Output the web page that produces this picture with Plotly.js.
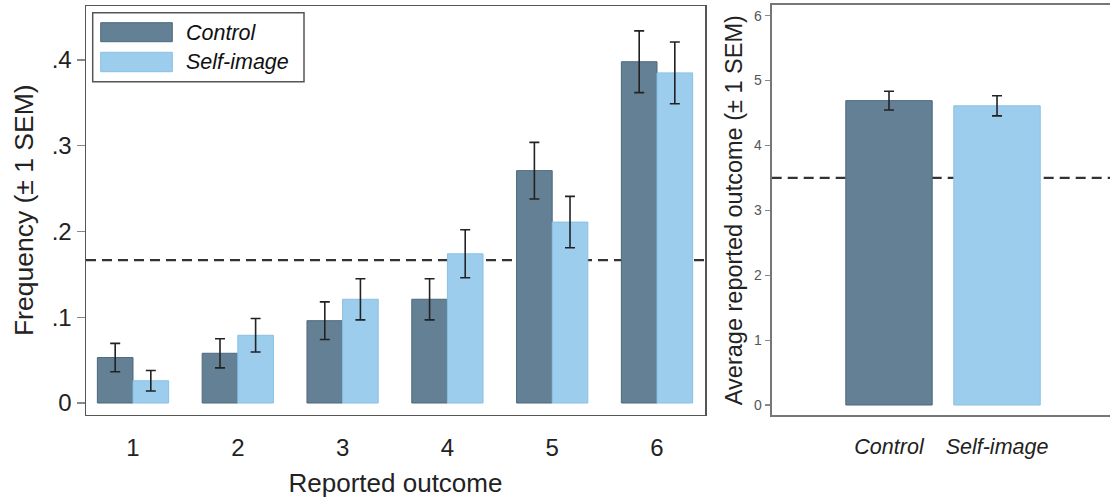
<!DOCTYPE html>
<html>
<head>
<meta charset="utf-8">
<script src="https://cdn.plot.ly/plotly-3.0.1.min.js"></script>
<style>html,body{margin:0;padding:0;background:#fff;}#chart{width:1110px;height:501px;}</style>
</head>
<body>
<div id="chart"></div>
<script>
// ---- data ----
var outcomes = ['1', '2', '3', '4', '5', '6'];
var controlFreq = [0.053, 0.058, 0.096, 0.121, 0.271, 0.398];
var controlFreqSem = [0.0165, 0.017, 0.022, 0.024, 0.033, 0.036];
var selfFreq = [0.026, 0.079, 0.121, 0.174, 0.211, 0.385];
var selfFreqSem = [0.012, 0.0195, 0.024, 0.028, 0.030, 0.036];

var groups = ['Control', 'Self-image'];
var avgOutcome = [4.69, 4.61];
var avgOutcomeSem = [0.145, 0.155];

var chanceFreq = 1 / 6;
var chanceMean = 3.5;

var freqTickVals = [0, 0.1, 0.2, 0.3, 0.4];
var freqTickText = ['0', '.1', '.2', '.3', '.4'];
var avgTickVals = [0, 1, 2, 3, 4, 5, 6];
var avgTickText = ['0', '1', '2', '3', '4', '5', '6'];

// ---- styles ----
var W = 1110, H = 501;
var cCtrl = '#648094', cCtrlLine = '#4d687d';
var cSelf = '#9dcdec', cSelfLine = '#88c0e6';
var FONT = 'Liberation Sans, Arial, sans-serif';
function px(x) { return x / W; }
function py(y) { return 1 - y / H; }

var errStyle = { type: 'data', visible: true, color: '#222', thickness: 1.6, width: 5 };

var traces = [
  {
    type: 'bar', name: 'Control', x: outcomes, y: controlFreq, xaxis: 'x', yaxis: 'y',
    marker: { color: cCtrl, line: { color: cCtrlLine, width: 1 } },
    error_y: Object.assign({ array: controlFreqSem }, errStyle),
    showlegend: false, hoverinfo: 'x+y'
  },
  {
    type: 'bar', name: 'Self-image', x: outcomes, y: selfFreq, xaxis: 'x', yaxis: 'y',
    marker: { color: cSelf, line: { color: cSelfLine, width: 1 } },
    error_y: Object.assign({ array: selfFreqSem }, errStyle),
    showlegend: false, hoverinfo: 'x+y'
  },
  {
    type: 'bar', name: 'Average', x: groups, y: avgOutcome, xaxis: 'x2', yaxis: 'y2',
    width: 0.8,
    marker: { color: [cCtrl, cSelf], line: { color: [cCtrlLine, cSelfLine], width: 1 } },
    error_y: Object.assign({ array: avgOutcomeSem }, errStyle),
    showlegend: false, hoverinfo: 'x+y'
  }
];

var legBox = { x0: 92.7, x1: 304, y0: 12.7, y1: 81.7 };
var shapes = [
  { type: 'line', xref: 'x domain', yref: 'y', x0: 0, x1: 1, y0: chanceFreq, y1: chanceFreq,
    line: { color: '#333', width: 2.2, dash: '10px,6px' }, layer: 'below' },
  { type: 'line', xref: 'x2 domain', yref: 'y2', x0: 0, x1: 1, y0: chanceMean, y1: chanceMean,
    line: { color: '#333', width: 2.2, dash: '10px,6px' }, layer: 'below' },
  // legend box and swatches
  { type: 'rect', xref: 'paper', yref: 'paper', x0: px(legBox.x0), x1: px(legBox.x1), y0: py(legBox.y1), y1: py(legBox.y0),
    line: { color: '#555', width: 1.5 }, fillcolor: 'rgba(255,255,255,1)' },
  { type: 'rect', xref: 'paper', yref: 'paper', x0: px(100.7), x1: px(172.3), y0: py(41.7), y1: py(22.7),
    line: { color: cCtrlLine, width: 1 }, fillcolor: cCtrl },
  { type: 'rect', xref: 'paper', yref: 'paper', x0: px(100.7), x1: px(172.3), y0: py(71.7), y1: py(52.3),
    line: { color: cSelfLine, width: 1 }, fillcolor: cSelf }
];

var annotations = [
  { xref: 'paper', yref: 'paper', x: px(184), y: py(32.5), xanchor: 'left', yanchor: 'middle', showarrow: false,
    text: '<i>Control</i>', font: { family: FONT, size: 21.5, color: '#111' } },
  { xref: 'paper', yref: 'paper', x: px(184), y: py(62.5), xanchor: 'left', yanchor: 'middle', showarrow: false,
    text: '<i>Self-image</i>', font: { family: FONT, size: 21.5, color: '#111' } }
];

var layout = {
  width: W, height: H,
  margin: { l: 0, r: 0, t: 0, b: 0, pad: 0 },
  paper_bgcolor: '#fff', plot_bgcolor: '#fff',
  font: { family: FONT, color: '#222' },
  barmode: 'group', bargap: 0.32, bargroupgap: 0,
  showlegend: false,
  xaxis: {
    domain: [px(86), px(705)], anchor: 'y',
    type: 'category', range: [-0.4485, 5.458],
    showline: true, linecolor: '#555', linewidth: 1.5, mirror: true,
    showgrid: false, zeroline: false, ticks: '',
    ticklabelstandoff: 11,
    tickfont: { family: FONT, size: 24, color: '#222' },
    title: { text: 'Reported outcome', font: { family: FONT, size: 26, color: '#222' }, standoff: 14 }
  },
  yaxis: {
    domain: [py(414.5), py(6)], anchor: 'x',
    range: [-0.0134, 0.463],
    tickmode: 'array', tickvals: freqTickVals, ticktext: freqTickText,
    showline: true, linecolor: '#555', linewidth: 1.5, mirror: true,
    showgrid: false, zeroline: false,
    ticks: 'outside', ticklen: 8, tickcolor: '#888', tickwidth: 1.2,
    tickfont: { family: FONT, size: 24, color: '#222' },
    title: { text: 'Frequency (± 1 SEM)', font: { family: FONT, size: 26.5, color: '#222' }, standoff: 10 }
  },
  xaxis2: {
    domain: [px(771.7), 1], anchor: 'y2',
    type: 'category', range: [-1.086, 2.046],
    showline: true, linecolor: '#777', linewidth: 2, mirror: true,
    showgrid: false, zeroline: false, ticks: '',
    ticklabelstandoff: 11,
    tickfont: { family: FONT, size: 21.5, color: '#222', style: 'italic' }
  },
  yaxis2: {
    domain: [py(415), py(5.3)], anchor: 'x2',
    range: [-0.154, 6.159],
    tickmode: 'array', tickvals: avgTickVals, ticktext: avgTickText,
    showline: true, linecolor: '#777', linewidth: 2, mirror: false,
    showgrid: false, zeroline: false,
    ticks: 'outside', ticklen: 5, tickcolor: '#888', tickwidth: 1.2,
    tickfont: { family: FONT, size: 14, color: '#555' },
    title: { text: 'Average reported outcome (± 1 SEM)', font: { family: FONT, size: 23.5, color: '#222' }, standoff: 5 }
  },
  shapes: shapes,
  annotations: annotations
};

Plotly.newPlot('chart', traces, layout, { staticPlot: true, displayModeBar: false });
</script>
</body>
</html>
